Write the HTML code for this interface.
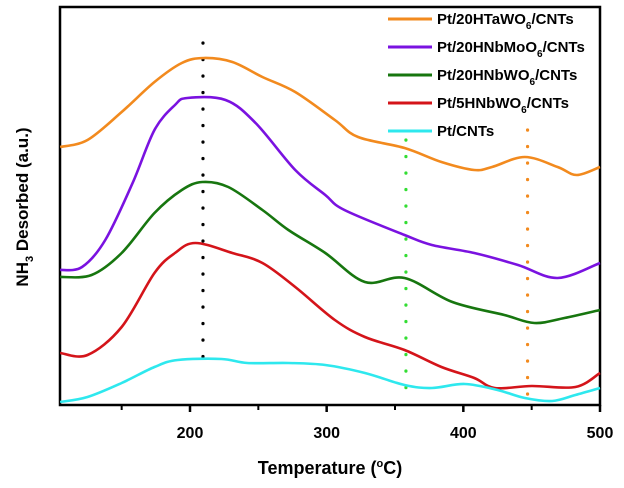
<!DOCTYPE html>
<html><head><meta charset="utf-8"><style>
html,body{margin:0;padding:0;background:#fff;}
svg{display:block;font-family:"Liberation Sans",Arial,sans-serif;}
</style></head><body>
<svg id="chart" width="624" height="488" viewBox="0 0 624 488">
<rect x="60" y="7" width="540" height="398" fill="none" stroke="#000" stroke-width="2.5"/>
<g id="ticks"></g>
<g id="drops"></g>
<g id="series"></g>
<text x="330" y="474" text-anchor="middle" font-size="18" font-weight="bold">Temperature (<tspan font-size="11" dy="-7">o</tspan><tspan dy="7">C)</tspan></text>
<text transform="translate(28,207) rotate(-90)" text-anchor="middle" font-size="17" font-weight="bold">NH<tspan font-size="11" dy="5">3</tspan><tspan dy="-5"> Desorbed (a.u.)</tspan></text>
<g id="legend"></g>
</svg>
<script>
const tickValues = [200, 300, 400, 500];
const minorTicks = [150, 250, 350, 450];
const seriesNames = ["Pt/20HTaWO6/CNTs","Pt/20HNbMoO6/CNTs","Pt/20HNbWO6/CNTs","Pt/5HNbWO6/CNTs","Pt/CNTs"];
const seriesColors = ["#f28a1e","#7a12e0","#17760f","#d4141a","#2ee8ee"];
const tempOrange = [105,125,150,174,194,210,231,253,277,306,323,357,384,408,421,445,469,483,500];
const valOrange = [258,265,293,323,342,347,343,328,313,285,268,257,243,235,238,248,238,230,238];
const tempPurple = [105,121,138,158,174,189,198,226,248,277,299,313,357,377,408,440,469,500];
const valPurple = [135,138,165,222,275,300,307,305,282,235,210,195,170,160,152,140,127,142];
const tempGreen = [105,128,150,174,194,209,228,253,272,299,328,357,392,430,452,474,500];
const valGreen = [128,130,152,192,215,223,218,195,175,152,123,127,103,90,82,87,95];
const tempRed = [105,125,150,174,189,204,231,253,277,306,328,357,384,408,423,450,482,500];
const valRed = [52,50,78,132,152,162,152,142,118,85,68,55,38,27,17,19,18,32];
const tempCyan = [105,125,150,174,191,223,242,272,299,328,357,377,401,425,445,465,482,500];
const valCyan = [3,8,22,38,45,46,42,42,40,32,20,17,21,15,7,4,10,17];
const dropTemps = [209.5, 358, 447];
const dropColors = ["#000","#33dd33","#f28a1e"];
const dropTops = [362, 265, 275];
const dropBottoms = [33, 15, 5];

const NS = "http://www.w3.org/2000/svg";
function xs(t){ return 190 + (t - 200) * (410/300); }
function ys(v){ return 405 - v; }
function mk(tag, attrs, parent){ const e = document.createElementNS(NS, tag); for (const k in attrs) e.setAttribute(k, attrs[k]); parent.appendChild(e); return e; }

const tg = document.getElementById('ticks');
tickValues.forEach(t => {
  const l = mk('line', {x1:xs(t), x2:xs(t), y1:405, y2:412, stroke:'#000', 'stroke-width':2.5}, tg);
  
  
  const tx = mk('text', {x:xs(t), y:438, 'text-anchor':'middle', 'font-size':16, 'font-weight':'bold'}, tg);
  tx.textContent = t;
  
  
});
minorTicks.forEach(t => {
  const l = mk('line', {x1:xs(t), x2:xs(t), y1:405, y2:410, stroke:'#000', 'stroke-width':2}, tg);
  
  
});

const dg = document.getElementById('drops');
dropTemps.forEach((t, i) => {
  const l = mk('line', {x1:xs(t), x2:xs(t), y1:ys(dropTops[i]), y2:ys(dropBottoms[i]), stroke:dropColors[i], 'stroke-width':3.2, 'stroke-dasharray':'0.1 16.4', 'stroke-linecap':'round'}, dg);
  
  
});

const sg = document.getElementById('series');
const temps = [tempOrange, tempPurple, tempGreen, tempRed, tempCyan];
const vals = [valOrange, valPurple, valGreen, valRed, valCyan];
temps.forEach((tArr, i) => {
  const pts = tArr.map((t, j) => [xs(t), ys(vals[i][j])]);
  let d = 'M' + pts[0][0] + ',' + pts[0][1];
  for (let j = 0; j < pts.length - 1; j++) {
    const p0 = pts[Math.max(0, j-1)], p1 = pts[j], p2 = pts[j+1], p3 = pts[Math.min(pts.length-1, j+2)];
    const c1x = p1[0] + (p2[0]-p0[0])/6, c1y = p1[1] + (p2[1]-p0[1])/6;
    const c2x = p2[0] - (p3[0]-p1[0])/6, c2y = p2[1] - (p3[1]-p1[1])/6;
    d += ' C' + c1x + ',' + c1y + ' ' + c2x + ',' + c2y + ' ' + p2[0] + ',' + p2[1];
  }
  const p = mk('path', {d:d, fill:'none', stroke:seriesColors[i], 'stroke-width':2.6, 'stroke-linejoin':'round'}, sg);
  
  
});

const lg = document.getElementById('legend');
seriesNames.forEach((n, i) => {
  const y = 19 + i * 28;
  const l = mk('line', {x1:388, x2:432, y1:y, y2:y, stroke:seriesColors[i], 'stroke-width':3}, lg);
  
  
  const t = mk('text', {x:437, y:y+5, 'font-size':15, 'font-weight':'bold'}, lg);
  
  
  const m = n.match(/^(.*?O)6(.*)$/);
  if (m) {
    t.appendChild(document.createTextNode(m[1]));
    const s = mk('tspan', {'font-size':10, dy:5}, t); s.textContent = '6';
    const r = mk('tspan', {dy:-5}, t); r.textContent = m[2];
  } else t.textContent = n;
});
</script>
</body></html>
